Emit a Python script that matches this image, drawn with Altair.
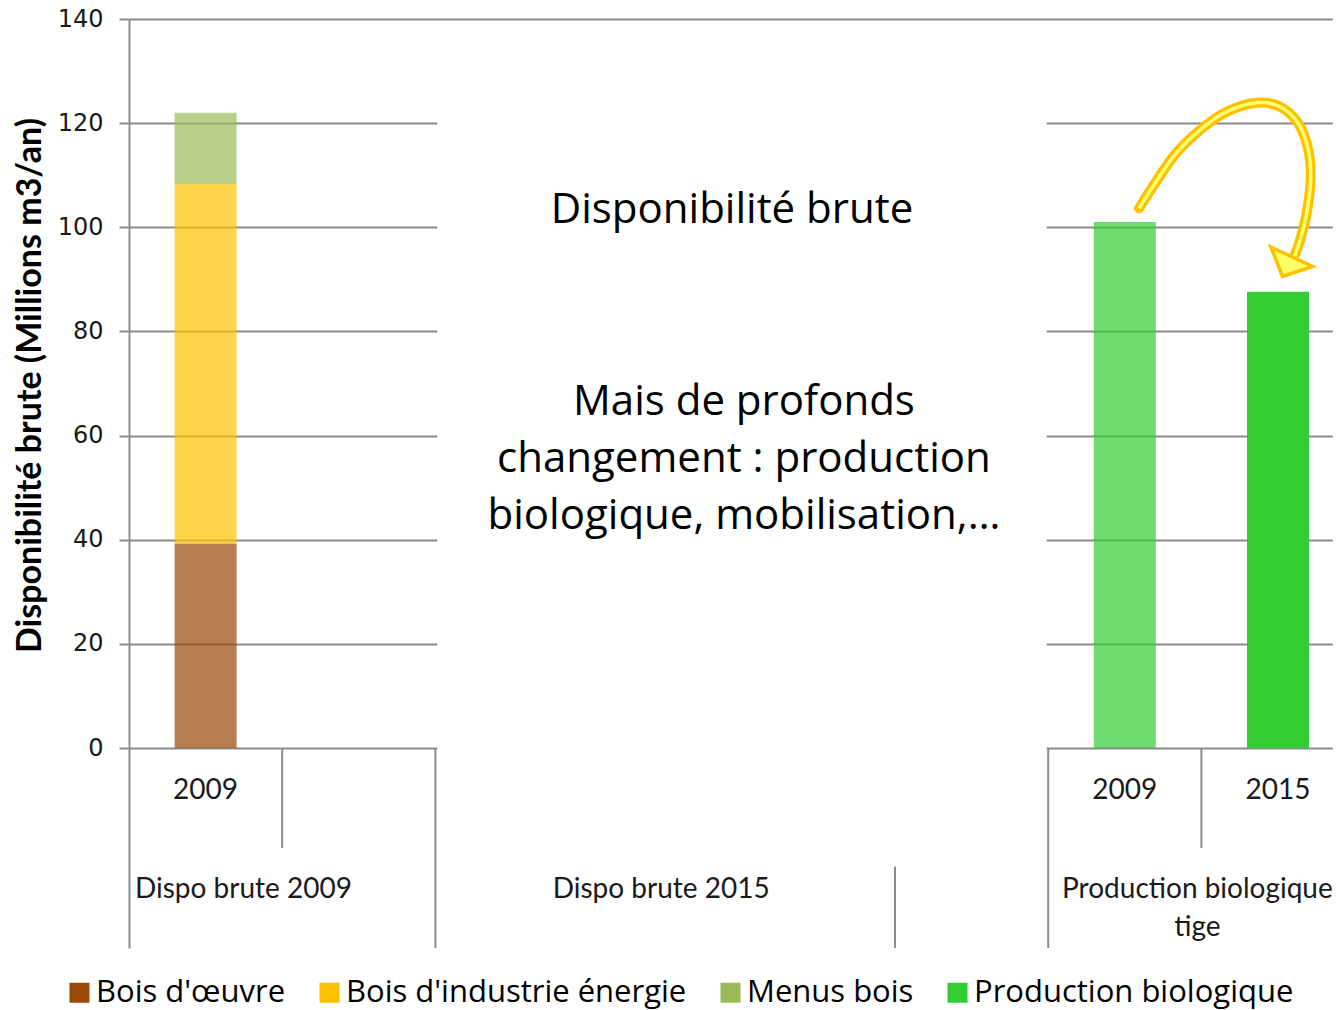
import altair as alt
import pandas as pd

# ---------------- data ----------------
series = ["Bois d'œuvre", "Bois d'industrie énergie", "Menus bois", "Production biologique"]
series_colors = ["#984807", "#FFC000", "#9BBB59", "#33CC33"]

# two-level category axis: 8 sub-slots, grouped
sub_labels = ["2009", "", "", "", "", "", "2009", "2015"]
group_labels = ["Dispo brute 2009", "Dispo brute 2015", "", "Production biologique\ntige"]
group_first_slot = [0, 2, 5, 6]
group_last_slot = [2, 5, 6, 8]

# Dispo brute 2009 (stacked)
dispo_2009_series = ["Bois d'œuvre", "Bois d'industrie énergie", "Menus bois"]
dispo_2009_values = [39.3, 69.0, 13.7]
# Production biologique tige
prod_bio_years = ["2009", "2015"]
prod_bio_values = [101.0, 87.6]

y_ticks = [0, 20, 40, 60, 80, 100, 120, 140]

headline = "Disponibilité brute"
note = "Mais de profonds\nchangement : production\nbiologique, mobilisation,…"

# curved arrow path (x in slots, y in Millions m3/an)
arrow_x = [6.593, 6.817, 6.991, 7.165, 7.361, 7.513, 7.632, 7.698, 7.713, 7.687, 7.644, 7.606]
arrow_y = [103.65, 113.56, 118.68, 122.20, 123.93, 123.16, 119.97, 114.85, 109.09, 102.69, 97.56, 94.36]
arrow_head = (7.561, 92.55)

# ---------------- layout ----------------
SLOT_PX = 153.2
W = 1204
H = 929
X_MAX = W / SLOT_PX
Y_MIN = -38.4
SUB_DEPTH = -19.2
SUB_LABEL_Y = -8.25
GROUP_LABEL_Y = -27.3
GROUP_LINE_H = 38

GRID = "#8C8C8C"
TXT = "#1a1a1a"
BIG_FONT = "Open Sans"

xs = alt.Scale(domain=[0, X_MAX], nice=False, zero=False, padding=0)
ys = alt.Scale(domain=[Y_MIN, 140], nice=False, zero=False, padding=0)

y_axis = alt.Axis(
    values=y_ticks, grid=True, gridColor=GRID, gridWidth=2,
    domain=True, domainColor=GRID, domainWidth=2,
    ticks=True, tickSize=10, tickColor=GRID, tickWidth=2,
    labelFont="DejaVu Sans", labelFontSize=24, labelColor=TXT, labelPadding=16,
    title="Disponibilité brute (Millions m3/an)", titleFont="Lato", titleFontWeight="bold",
    titleFontSize=34, titleColor="#000", titleAngle=270, titleX=-99, titleY=366,
    titleBaseline="middle", titleAlign="center")


def X(field):
    return alt.X(field, type="quantitative", scale=xs, axis=None)


def Y(field):
    return alt.Y(field, type="quantitative", scale=ys, axis=y_axis)


# bars
rows = []
base = 0.0
for s, v in zip(dispo_2009_series, dispo_2009_values):
    rows.append(dict(xc=group_first_slot[0] + 0.5, series=s, y0=base, y1=base + v, year="2009"))
    base += v
for i, (yr, v) in enumerate(zip(prod_bio_years, prod_bio_values)):
    rows.append(dict(xc=group_first_slot[3] + i + 0.5, series="Production biologique", y0=0.0, y1=v, year=yr))
bars_df = pd.DataFrame(rows)

# separators of the category axis
seps = []
for a, b in zip(group_first_slot, group_last_slot):
    for k in range(a + 1, b):
        seps.append(dict(x=k, y=0.0, y2=SUB_DEPTH))
for b in sorted(set(group_first_slot + group_last_slot)):
    if 0 < b < X_MAX:
        seps.append(dict(x=b, y=0.0, y2=Y_MIN))
seps_df = pd.DataFrame(seps)

sub_df = pd.DataFrame([dict(x=i + 0.5, y=SUB_LABEL_Y, t=t) for i, t in enumerate(sub_labels) if t])
grp_rows = []
for lab, a, b in zip(group_labels, group_first_slot, group_last_slot):
    if not lab:
        continue
    grp_rows.append(dict(x=(a + b) / 2, xs=a, y=GROUP_LABEL_Y, t=lab, first=(a == 0)))
grp_df = pd.DataFrame(grp_rows)

box_df = pd.DataFrame([dict(x=2.012, x2=5.99, y=-22.8, y2=139.6)])
arrow_df = pd.DataFrame(dict(x=arrow_x, y=arrow_y, i=list(range(len(arrow_x)))))
head_df = pd.DataFrame([dict(x=arrow_head[0], y=arrow_head[1])])
head_text_df = pd.DataFrame([dict(x=3.936, y=103.3, t=headline)])
note_df = pd.DataFrame([dict(x=4.014, y=66.45, t=note)])

# ---------------- layers ----------------
bars = alt.Chart(bars_df).mark_bar(width=62).encode(
    x=X("xc"),
    y=Y("y0"),
    y2="y1",
    color=alt.Color("series:N", scale=alt.Scale(domain=series, range=series_colors),
                    legend=alt.Legend(title=None, orient="none", legendX=-65, legendY=958,
                                      direction="horizontal", symbolType="square", symbolSize=400,
                                      symbolStrokeWidth=0, symbolOpacity=1, labelFont=BIG_FONT,
                                      labelFontSize=31, labelColor="#000", labelOffset=1,
                                      columnPadding=28, padding=0, labelLimit=1000)),
    opacity=alt.when(alt.datum.year == "2015").then(alt.value(1.0)).otherwise(alt.value(0.7)),
)

sep_layer = alt.Chart(seps_df).mark_rule(color=GRID, strokeWidth=2).encode(x=X("x"), y=Y("y"), y2="y2")

box = alt.Chart(box_df).mark_rect(color="white", opacity=1).encode(x=X("x"), x2="x2", y=Y("y"), y2="y2")

sub_text = alt.Chart(sub_df).mark_text(font="Lato", fontSize=28, color=TXT, baseline="middle").encode(
    x=X("x"), y=Y("y"), text="t:N")

grp_first = alt.Chart(grp_df[grp_df["first"]]).mark_text(
    font="Lato", fontSize=28, color=TXT, baseline="middle", align="left", dx=6,
    lineBreak="\n", lineHeight=GROUP_LINE_H).encode(x=X("xs"), y=Y("y"), text="t:N")
grp_other = alt.Chart(grp_df[~grp_df["first"]]).mark_text(
    font="Lato", fontSize=28, color=TXT, baseline="middle", align="center", dx=-4,
    lineBreak="\n", lineHeight=GROUP_LINE_H).encode(x=X("x"), y=Y("y"), text="t:N")

head_text = alt.Chart(head_text_df).mark_text(font=BIG_FONT, fontSize=42, color="#000",
                                              baseline="middle").encode(x=X("x"), y=Y("y"), text="t:N")
note_text = alt.Chart(note_df).mark_text(font=BIG_FONT, fontSize=42, color="#000", baseline="middle",
                                         lineBreak="\n", lineHeight=57).encode(x=X("x"), y=Y("y"), text="t:N")

arrow_outer = alt.Chart(arrow_df).mark_line(interpolate="cardinal", color="#FFC000", strokeWidth=10,
                                            strokeCap="round").encode(x=X("x"), y=Y("y"), order="i:Q")
arrow_inner = alt.Chart(arrow_df).mark_line(interpolate="cardinal", color="#FFFF70", strokeWidth=3.5,
                                            strokeCap="butt").encode(x=X("x"), y=Y("y"), order="i:Q")
arrow_tip = alt.Chart(head_df).mark_point(shape="M -1 -0.45 L 1 -0.45 L 0 0.5 Z", size=2116, filled=True,
                                          fill="#FFFF66", stroke="#FFC000", strokeWidth=3.5, angle=25,
                                          opacity=1).encode(x=X("x"), y=Y("y"))

chart = alt.layer(
    bars, sep_layer, box, sub_text, grp_first, grp_other, head_text, note_text,
    arrow_outer, arrow_inner, arrow_tip,
).properties(
    width=W, height=H,
    padding={"left": 121, "top": 11, "right": 0, "bottom": 70},
    autosize=alt.AutoSizeParams(type="none"),
).configure_view(strokeWidth=0).configure_text(font="Lato")

chart.save("out.html", embed_options={"renderer": "svg", "actions": False})
